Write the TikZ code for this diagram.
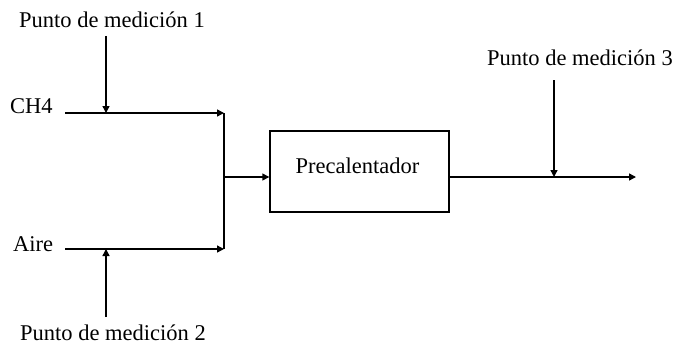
\documentclass[tikz,border=0pt]{standalone}
\usepackage{fontspec}
\setmainfont{Liberation Serif}
\usetikzlibrary{arrows.meta}
\begin{document}
\begin{tikzpicture}[x=1pt,y=-1pt,
  lbl/.style={font=\fontsize{22.5}{24}\selectfont, inner sep=0pt, anchor=base},
  flow/.style={line width=1.4pt, -{Triangle[length=7pt,width=7pt]}},
  plain/.style={line width=1.4pt},
  boxst/.style={draw, line width=1.4pt, minimum width=179pt, minimum height=81pt, inner sep=0pt}]
\useasboundingbox (0,0) rectangle (676,345);
% labels
\node[lbl] (p1) at (112,28) {Punto de medición 1};
\node[lbl] (p2) at (113,340) {Punto de medición 2};
\node[lbl] (p3) at (580,65) {Punto de medición 3};
\node[lbl, anchor=base west] (ch4) at (10,113) {CH4};
\node[lbl, anchor=base west] (aire) at (13,251) {Aire};
% box
\node[boxst] (pre) at (359.5,171.5) {};
\node[lbl] (pret) at (357.5,173) {Precalentador};
% coordinates
\coordinate (c4s) at (65,113);
\coordinate (c4e) at (224,113);
\coordinate (ars) at (65,249);
\coordinate (are) at (224,249);
\coordinate (mid) at (224,177);
\coordinate (m1s) at (106,36);
\coordinate (m1e) at (106,113);
\coordinate (m2s) at (106,317);
\coordinate (m2e) at (106,249);
\coordinate (outs) at (pre.east |- mid);
\coordinate (oute) at (636,177);
\coordinate (m3s) at (554,80);
\coordinate (m3e) at (554,177);
% lines
\draw[flow] (c4s) -- (c4e);
\draw[flow] (ars) -- (are);
\draw[plain] (c4e) -- (are);
\draw[flow] (mid) -- (pre.west |- mid);
\draw[flow] (outs) -- (oute);
\draw[flow] (m1s) -- (m1e);
\draw[flow] (m2s) -- (m2e);
\draw[flow] (m3s) -- (m3e);
\end{tikzpicture}
\end{document}
